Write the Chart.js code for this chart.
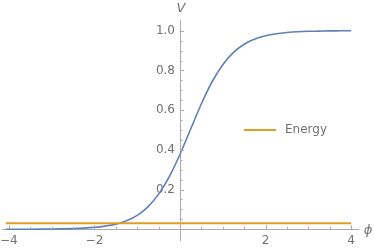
<!DOCTYPE html>
<html>
<head>
<meta charset="utf-8">
<script src="https://cdn.jsdelivr.net/npm/chart.js@4.4.1/dist/chart.umd.min.js"></script>
<style>
  html, body { margin: 0; padding: 0; background: #fff; }
</style>
</head>
<body>
<canvas id="plot" width="374" height="249"></canvas>
<script>
// curve V(phi)
const phi = [-4.07, -3.75, -3.5, -3.25, -3, -2.75, -2.5, -2.25, -2, -1.75, -1.5, -1.25, -1, -0.75, -0.5, -0.25,
             0, 0.25, 0.5, 0.75, 1, 1.25, 1.5, 1.75, 2, 2.25, 2.5, 2.75, 3, 3.25, 3.5, 3.75, 4];
const potential = [0.0001, 0.0003, 0.0004, 0.0007, 0.0012, 0.002, 0.0033, 0.0056, 0.0094, 0.016, 0.026, 0.043, 0.07, 0.113, 0.177, 0.265,
                   0.378, 0.505, 0.632, 0.743, 0.829, 0.891, 0.932, 0.958, 0.975, 0.985, 0.991, 0.995, 0.997, 0.998, 0.999, 0.9995, 1.0];
// energy level line
const energyPhi = [-4.07, 4];
const energyLevel = [0.03, 0.03];
// tick labels
const xTickLabels = [-4, -2, 2, 4];
const yTickLabels = [0.2, 0.4, 0.6, 0.8, 1.0];

const blue = 'rgb(94, 129, 181)';
const orange = 'rgb(225, 156, 36)';
const axisGray = '#ababab';
const textGray = '#707070';
const fontFamily = '"DejaVu Sans", sans-serif';

// small tick marks, inside the axes (major longer than minor)
const tickMarks = {
    id: 'tickMarks',
    afterDraw(chart) {
        const c = chart.ctx;
        const xs = chart.scales.x, ys = chart.scales.y;
        const x0 = xs.getPixelForValue(0), y0 = ys.getPixelForValue(0);
        c.save();
        c.strokeStyle = axisGray;
        c.lineWidth = 1;
        c.beginPath();
        for (let i = -8; i <= 8; i++) {
            if (i === 0) continue;
            const px = Math.round(xs.getPixelForValue(i / 2)) + 0.5;
            const len = i % 4 === 0 ? 4 : 2.5;
            c.moveTo(px, y0);
            c.lineTo(px, y0 - len);
        }
        for (let i = 1; i <= 20; i++) {
            const py = Math.round(ys.getPixelForValue(i / 20)) + 0.5;
            const len = i % 4 === 0 ? 4 : 2.5;
            c.moveTo(x0, py);
            c.lineTo(x0 + len, py);
        }
        c.stroke();

        // axis labels
        c.fillStyle = textGray;
        c.font = 'italic 13px ' + fontFamily;
        c.textAlign = 'center';
        c.textBaseline = 'middle';
        c.fillText('V', x0 + 1, 9);
        c.fillText('\u03d5', xs.right + 10, y0 + 1);

        // legend
        c.strokeStyle = orange;
        c.lineWidth = 2;
        c.beginPath();
        c.moveTo(244, 130);
        c.lineTo(276, 130);
        c.stroke();
        c.font = '12px ' + fontFamily;
        c.textAlign = 'left';
        c.fillText('Energy', 285, 130);
        c.restore();
    }
};

const fmtX = v => xTickLabels.includes(v) ? (v < 0 ? '\u2212' + Math.abs(v) : String(v)) : '';
const fmtY = v => {
    const hit = yTickLabels.find(t => Math.abs(t - v) < 1e-6);
    return hit === undefined ? '' : hit.toFixed(1) + ' \u200a';
};
// let layout.padding alone decide the plot box
const noPad = s => { s.paddingLeft = 0; s.paddingRight = 0; s.paddingTop = 0; s.paddingBottom = 0; };

new Chart(document.getElementById('plot').getContext('2d'), {
    type: 'scatter',
    data: {
        datasets: [
            {
                label: 'V',
                data: phi.map((p, i) => ({ x: p, y: potential[i] })),
                showLine: true,
                borderColor: blue,
                borderWidth: 1.6,
                pointRadius: 0,
                cubicInterpolationMode: 'monotone',
                order: 2
            },
            {
                label: 'Energy',
                data: energyPhi.map((p, i) => ({ x: p, y: energyLevel[i] })),
                showLine: true,
                borderColor: orange,
                borderWidth: 2,
                pointRadius: 0,
                order: 1
            }
        ]
    },
    options: {
        responsive: false,
        animation: false,
        events: [],
        layout: { padding: { left: 2, right: 16, top: 20, bottom: 9 } },
        plugins: { legend: { display: false }, tooltip: { enabled: false } },
        scales: {
            x: {
                type: 'linear',
                position: { y: 0 },
                min: -4.16,
                max: 4.16,
                afterFit: noPad,
                grid: { display: false, drawTicks: false, tickLength: 0 },
                border: { display: true, color: axisGray, width: 1 },
                ticks: {
                    stepSize: 2,
                    includeBounds: false,
                    autoSkip: false,
                    maxRotation: 0,
                    padding: 4,
                    color: textGray,
                    font: { family: fontFamily, size: 12 },
                    callback: fmtX
                }
            },
            y: {
                type: 'linear',
                position: { x: 0 },
                min: -0.054,
                max: 1.054,
                afterFit: noPad,
                grid: { display: false, drawTicks: false, tickLength: 0 },
                border: { display: true, color: axisGray, width: 1 },
                ticks: {
                    stepSize: 0.2,
                    includeBounds: false,
                    autoSkip: false,
                    padding: 4,
                    color: textGray,
                    font: { family: fontFamily, size: 12 },
                    callback: fmtY
                }
            }
        }
    },
    plugins: [tickMarks]
});
</script>
</body>
</html>
